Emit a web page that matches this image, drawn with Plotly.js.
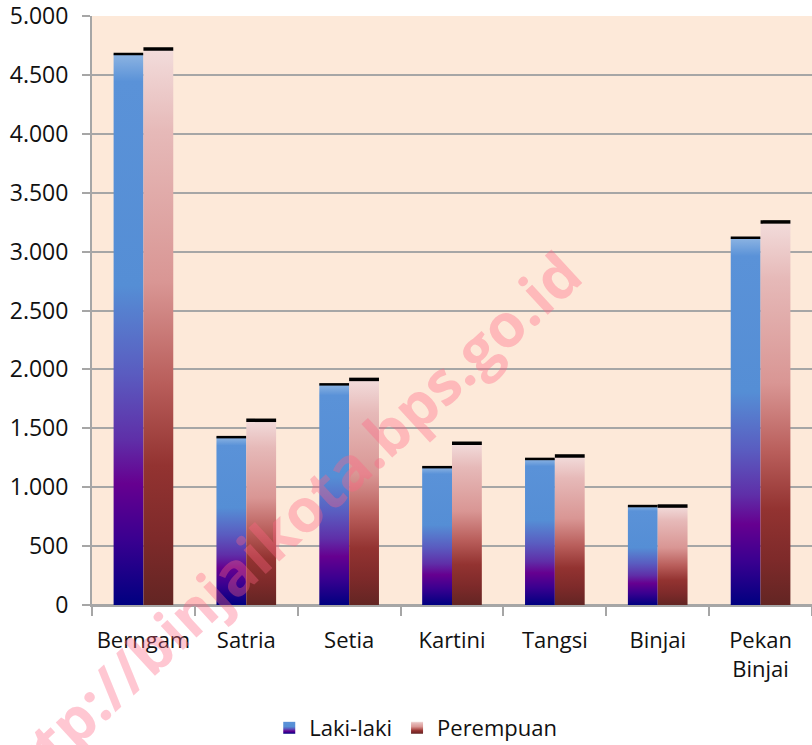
<!DOCTYPE html>
<html>
<head>
<meta charset="utf-8">
<script src="https://cdn.plot.ly/plotly-3.0.1.min.js"></script>
<style>html,body{margin:0;padding:0;background:#fff;}#chart{width:812px;height:745px;}</style>
</head>
<body>
<div id="chart"></div>
<script>
const categories = ["Berngam", "Satria", "Setia", "Kartini", "Tangsi", "Binjai", "Pekan<br>Binjai"];
const lakiLaki = [4678, 1425, 1873, 1170, 1240, 840, 3118];
const perempuan = [4720, 1568, 1915, 1373, 1265, 840, 3252];
const seriesNames = ["Laki-laki", "Perempuan"];
const yTicks = [0, 500, 1000, 1500, 2000, 2500, 3000, 3500, 4000, 4500, 5000];
const watermark = "http://binjaikota.bps.go.id";

const FONT = "'Open Sans', 'DejaVu Sans', sans-serif";

const traces = [
  {type: "bar", name: seriesNames[0], x: categories, y: lakiLaki,
   marker: {color: "#558ED5", line: {width: 0}}},
  {type: "bar", name: seriesNames[1], x: categories, y: perempuan,
   marker: {color: "#D99694", line: {width: 0}}}
];

const layout = {
  width: 812, height: 745,
  margin: {l: 92, r: 0, t: 16, b: 140},
  paper_bgcolor: "#ffffff",
  plot_bgcolor: "#FDE9D9",
  separators: ",.",
  barmode: "group",
  bargap: 0.42,
  bargroupgap: 0,
  font: {family: FONT, size: 22, color: "#111"},
  showlegend: true,
  legend: {orientation: "h", xref: "container", yref: "container", x: 0.512, xanchor: "center", y: 0.023, yanchor: "middle",
           font: {size: 22, family: FONT, color: "#111"}, itemwidth: 30, traceorder: "normal", bgcolor: "rgba(0,0,0,0)"},
  xaxis: {type: "category", showline: true, linecolor: "#A6A6A6", linewidth: 2, tickangle: 0,
          ticks: "outside", tickson: "boundaries", ticklen: 9, tickcolor: "#A6A6A6", tickwidth: 2,
          ticklabelstandoff: 15, tickfont: {size: 22, family: FONT, color: "#111"}, showgrid: false, fixedrange: true,
          ticklabeloverflow: "allow"},
  yaxis: {range: [0, 5000], tickvals: yTicks, tickformat: ",d", showline: true, linecolor: "#A6A6A6", linewidth: 2,
          ticks: "outside", ticklen: 8, tickcolor: "#A6A6A6", tickwidth: 2, ticklabelstandoff: 9,
          showgrid: true, gridcolor: "#A6A6A6", gridwidth: 2, zeroline: true, zerolinecolor: "#A6A6A6", zerolinewidth: 2,
          tickfont: {size: 23, family: FONT, color: "#111"}, fixedrange: true, ticklabeloverflow: "allow"},
  annotations: [{text: "<b>" + watermark + "</b>", xref: "paper", yref: "paper", x: 0.262, y: 0.129,
                 xanchor: "center", yanchor: "middle",
                 showarrow: false, textangle: -42.6, font: {size: 60, family: FONT, color: "rgba(255,100,130,0.36)"}}]
};

Plotly.newPlot("chart", traces, layout, {staticPlot: true, displayModeBar: false}).then(function (gd) {
  const svg = gd.querySelector("svg.main-svg");
  let defs = svg.querySelector("defs");
  const NS = "http://www.w3.org/2000/svg";
  function grad(id, stops) {
    const g = document.createElementNS(NS, "linearGradient");
    g.setAttribute("id", id);
    g.setAttribute("x1", "0"); g.setAttribute("y1", "0");
    g.setAttribute("x2", "0"); g.setAttribute("y2", "1");
    stops.forEach(function (s) {
      const st = document.createElementNS(NS, "stop");
      st.setAttribute("offset", s[0]);
      st.setAttribute("stop-color", s[1]);
      g.appendChild(st);
    });
    defs.appendChild(g);
  }
  grad("gLaki", [[0, "#8DB4E2"], [0.05, "#5A92D8"], [0.42, "#558ED5"], [0.58, "#5A5CC0"], [0.7, "#5F2FA8"], [0.78, "#660090"], [0.88, "#3A0090"], [1, "#000080"]]);
  grad("gPerem", [[0, "#F2DCDB"], [0.15, "#E6B9B8"], [0.42, "#D99694"], [0.6, "#B95E5B"], [0.75, "#933331"], [0.88, "#7E2A2A"], [1, "#632523"]]);
  const ids = ["gLaki", "gPerem"];
  const capW = ["2.5px", "3.5px"];
  const barTraces = gd.querySelectorAll(".barlayer .trace");
  barTraces.forEach(function (t, i) {
    t.querySelectorAll("path").forEach(function (p) {
      p.style.fill = "url(#" + ids[i] + ")";
      p.style.fillOpacity = "1";
      const bb = p.getBBox();
      const h = bb.height, w = bb.width;
      p.style.stroke = "#000";
      p.style.strokeWidth = capW[i];
      p.style.strokeOpacity = "1";
      p.style.strokeDasharray = "0," + h + "," + w + "," + (h + w + 10);
    });
  });
  const legendTraces = gd.querySelectorAll(".legend .traces");
  legendTraces.forEach(function (t, i) {
    t.querySelectorAll(".legendpoints path").forEach(function (p) {
      p.style.fill = "url(#" + ids[i] + ")";
    });
  });
});
</script>
</body>
</html>
